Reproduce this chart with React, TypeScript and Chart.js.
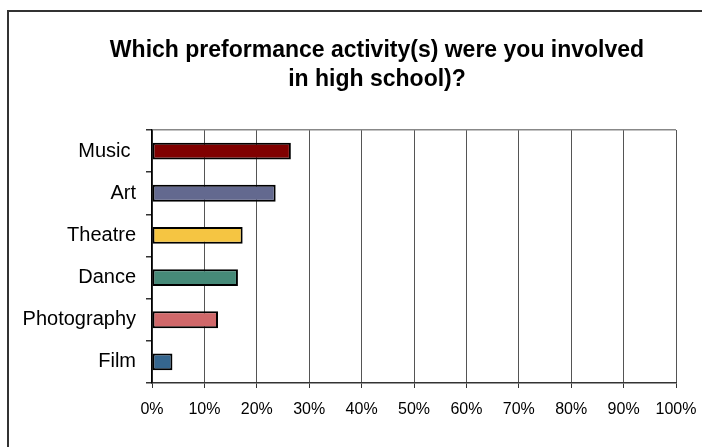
import React, { useEffect, useRef } from "react";
import { Chart, registerables } from "chart.js";

Chart.register(...registerables);

const titleLines = ["Which preformance activity(s) were you involved", "in high school)?"];
const categories = ["Music ", "Art", "Theatre", "Dance", "Photography", "Film"];
const values = [26.5, 23.6, 17.3, 16.4, 12.6, 3.9];
const barColors = ["#800000", "#63698f", "#f5c542", "#468a78", "#d0686a", "#35668f"];
const xTickMax = 100;
const xTickStep = 10;

const FONT = "'Liberation Sans', Arial, sans-serif";

const framePlugin = {
  id: "frame",
  beforeDraw(chart: any) {
    const ctx = chart.ctx;
    ctx.save();
    ctx.fillStyle = "#ffffff";
    ctx.fillRect(0, 0, chart.width, chart.height);
    ctx.fillStyle = "#333333";
    ctx.fillRect(7, 10, 2, chart.height);
    ctx.fillRect(7, 10, chart.width, 2);
    ctx.restore();
  },
  afterDraw(chart: any) {
    const ctx = chart.ctx;
    ctx.save();
    ctx.fillStyle = "#000000";
    ctx.font = "bold 23px " + FONT;
    ctx.textAlign = "center";
    ctx.textBaseline = "alphabetic";
    titleLines.forEach((line, i) => {
      ctx.fillText(line, 377, 57 + i * 29);
    });
    ctx.restore();
  },
};

export default function App() {
  const ref = useRef<HTMLCanvasElement | null>(null);
  useEffect(() => {
    if (!ref.current) return;
    const chart = new Chart(ref.current, {
      type: "bar",
      data: {
        labels: categories,
        datasets: [
          {
            data: values,
            backgroundColor: barColors,
            borderColor: "#000000",
            borderWidth: 2,
            borderSkipped: false,
            barPercentage: 0.4,
            categoryPercentage: 1,
          },
        ],
      },
      options: {
        indexAxis: "y",
        animation: false,
        responsive: false,
        maintainAspectRatio: false,
        layout: { padding: { left: 0, right: 26, top: 130, bottom: 0 } },
        plugins: {
          legend: { display: false },
          tooltip: { enabled: false },
          title: { display: false },
        },
        scales: {
          x: {
            min: 0,
            max: xTickMax,
            ticks: {
              stepSize: xTickStep,
              color: "#000000",
              padding: 12,
              font: { family: FONT, size: 16 },
              callback: (v: any) => v + "%",
            },
            grid: { color: "#555555", lineWidth: 1, tickLength: 5, tickColor: "#333333" },
            border: { color: "#333333", width: 1.5 },
            afterFit: (scale: any) => {
              scale.height = 64;
              scale.paddingRight = 0;
              scale.paddingLeft = 0;
            },
          },
          y: {
            ticks: {
              color: "#000000",
              padding: 10,
              font: { family: FONT, size: 20 },
            },
            grid: {
              offset: true,
              tickLength: 6,
              tickColor: "#333333",
              color: (c: any) => (c.index === 0 ? "#888888" : "rgba(0,0,0,0)"),
              lineWidth: 1.5,
            },
            border: { color: "#000000", width: 1.5 },
            afterFit: (scale: any) => {
              scale.width = 152;
              scale.paddingTop = 0;
              scale.paddingBottom = 0;
            },
          },
        },
      },
      plugins: [framePlugin],
    });
    return () => chart.destroy();
  }, []);
  return (
    <div style={{ position: "fixed", left: 0, top: 0, width: 702, height: 447, background: "#fff" }}>
      <canvas ref={ref} width={702} height={447} style={{ width: 702, height: 447, display: "block" }} />
    </div>
  );
}
